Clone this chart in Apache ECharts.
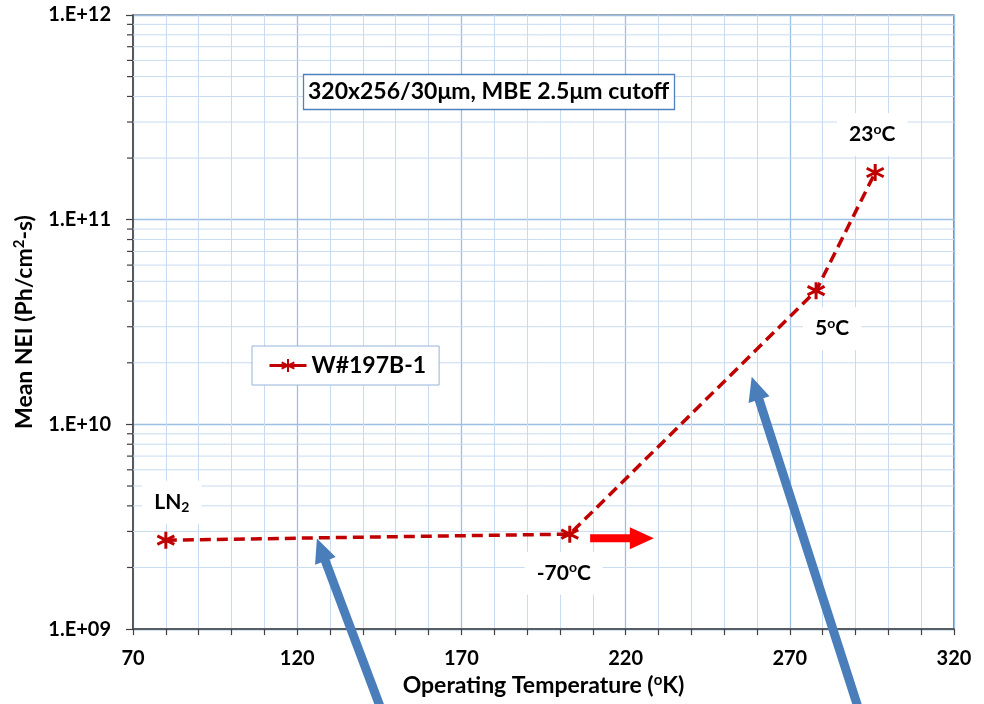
<!DOCTYPE html>
<html><head><meta charset="utf-8">
<script src="https://cdn.jsdelivr.net/npm/echarts@6/dist/echarts.min.js"></script>
<style>html,body{margin:0;padding:0;background:#fff}#c{width:984px;height:704px}</style>
</head><body><div id="c"></div>
<script>
// ---- data ----
const seriesName = 'W#197B-1';
const temperatures = [80, 203, 278, 296];
const neiValues = [2.72e9, 2.91e9, 4.5e10, 1.7e11];
const pointLabels = ['LN{sub|2}', '-70{sup|o}C', '5{sup|o}C', '23{sup|o}C'];
const xTickValues = [70, 120, 170, 220, 270, 320];
const yTickLabels = ['1.E+09', '1.E+10', '1.E+11', '1.E+12'];
const noteText = '320x256/30μm, MBE 2.5μm cutoff';
const xTitle = 'Operating Temperature ({sup|o}K)';
const yTitle = 'Mean NEI (Ph/cm{sup|2}-s)';

// ---- styling / annotation placement ----
const labelOffsets = [[6, -38], [-6, 39], [16, 38], [-3, -38]];
const arrows = [
  {from: [146.4, 3.73e8], to: [126.0, 2.77e9], color: '#4a7ebb', shaft: 9, headW: 22, headL: 24},
  {from: [291.7, 3.73e8], to: [258.4, 1.71e10], color: '#4a7ebb', shaft: 9, headW: 22, headL: 24},
  {from: [209.2, 2.78e9], to: [228.6, 2.78e9], color: '#ff0000', shaft: 8, headW: 22, headL: 24}
];
const FONT = 'Lato, "Open Sans", sans-serif';
const minorY = [];
for (let d = 9; d < 12; d++) for (let m = 2; m <= 9; m++) minorY.push(m * Math.pow(10, d));

const asterisk = 'path://M5,0L5,10M0.67,2.5L9.33,7.5M0.67,7.5L9.33,2.5';
function richFor(size) {
  return {
    sup: {fontSize: size, lineHeight: size, fontWeight: 'bold', fontFamily: FONT, padding: [0, 0, Math.round(size * 0.75), 0], color: '#000'},
    sub: {fontSize: size, lineHeight: size, fontWeight: 'bold', fontFamily: FONT, padding: [Math.round(size * 0.75), 0, 0, 0], color: '#000'}
  };
}

const chart = echarts.init(document.getElementById('c'));
chart.setOption({
  animation: false,
  backgroundColor: '#fff',
  title: {
    text: noteText, left: 303, top: 74, padding: [5, 5],
    borderColor: '#4f81bd', borderWidth: 1.3, backgroundColor: '#fff',
    textStyle: {fontSize: 23, fontWeight: 'bold', fontFamily: FONT, color: '#000', lineHeight: 26}
  },
  legend: {
    data: [seriesName], left: 252, top: 346, padding: [8, 13, 8, 16],
    itemWidth: 37, itemHeight: 16, borderColor: '#95b3d7', borderWidth: 1, backgroundColor: '#fff',
    lineStyle: {type: 'solid', width: 3},
    textStyle: {fontSize: 23, fontWeight: 'bold', fontFamily: FONT, color: '#000'}
  },
  grid: {left: 133, right: 30, top: 15, bottom: 72, show: true, borderColor: '#404040', borderWidth: 1.2, backgroundColor: 'transparent'},
  xAxis: {
    type: 'value', min: 70, max: 320, interval: 50,
    axisLine: {show: true, onZero: false, lineStyle: {color: '#404040', width: 1.5}},
    axisTick: {show: true, length: 6, lineStyle: {color: '#404040', width: 1.2}},
    minorTick: {show: true, splitNumber: 5, length: 6, lineStyle: {color: '#404040', width: 1.2}},
    splitLine: {show: true, lineStyle: {color: '#9dbfe4', width: 1.3}},
    minorSplitLine: {show: true, lineStyle: {color: '#c9dbf0', width: 1}},
    axisLabel: {
      margin: 19, fontSize: 20, fontWeight: 'bold', fontFamily: FONT, color: '#000',
      formatter: v => xTickValues.includes(v) ? String(v) : ''
    },
    name: xTitle, nameLocation: 'middle', nameGap: 44,
    nameTextStyle: {fontSize: 23, fontWeight: 'bold', fontFamily: FONT, color: '#000', rich: richFor(15)}
  },
  yAxis: {
    type: 'log', logBase: 10, min: 1e9, max: 1e12,
    axisLine: {show: true, lineStyle: {color: '#404040', width: 1.5}},
    axisTick: {show: true, length: 7, lineStyle: {color: '#404040', width: 1.2}},
    splitLine: {show: true, lineStyle: {color: '#9dbfe4', width: 1.3}},
    axisLabel: {
      margin: 22, fontSize: 20, fontWeight: 'bold', fontFamily: FONT, color: '#000',
      formatter: v => yTickLabels[Math.round(Math.log10(v)) - 9]
    },
    name: yTitle, nameLocation: 'middle', nameGap: 90, nameRotate: 90,
    nameTextStyle: {fontSize: 23, fontWeight: 'bold', fontFamily: FONT, color: '#000', rich: richFor(15)}
  },
  series: [
    {
      type: 'custom', silent: true, clip: false, z: 1,
      data: minorY.map(v => [70, v]),
      encode: {x: 0, y: 1},
      renderItem: (params, api) => {
        const cs = params.coordSys;
        const p = api.coord([api.value(0), api.value(1)]);
        return {type: 'group', children: [
          {type: 'line', shape: {x1: cs.x, y1: p[1], x2: cs.x + cs.width, y2: p[1]}, style: {stroke: '#c9dbf0', lineWidth: 1}},
          {type: 'line', shape: {x1: cs.x - 6, y1: p[1], x2: cs.x, y2: p[1]}, style: {stroke: '#404040', lineWidth: 1.2}}
        ]};
      }
    },
    {
      name: seriesName, type: 'line', z: 3,
      data: temperatures.map((t, i) => ({
        value: [t, neiValues[i]],
        label: {formatter: pointLabels[i], offset: labelOffsets[i]}
      })),
      symbol: asterisk, symbolSize: 17,
      itemStyle: {color: '#c00000', borderColor: '#c00000', borderWidth: 3},
      lineStyle: {color: '#c00000', width: 3.5, type: [11, 6]},
      label: {
        show: true, position: 'inside', backgroundColor: '#fff', padding: [11, 12],
        fontSize: 21, fontWeight: 'bold', fontFamily: FONT, color: '#000', rich: richFor(14)
      }
    }
  ]
});

function arrowPoints(a, b, sw, hw, hl) {
  const dx = b[0] - a[0], dy = b[1] - a[1], L = Math.hypot(dx, dy);
  const ux = dx / L, uy = dy / L, nx = -uy, ny = ux;
  const bx = b[0] - ux * hl, by = b[1] - uy * hl;
  return [
    [a[0] + nx * sw / 2, a[1] + ny * sw / 2], [bx + nx * sw / 2, by + ny * sw / 2],
    [bx + nx * hw / 2, by + ny * hw / 2], [b[0], b[1]],
    [bx - nx * hw / 2, by - ny * hw / 2], [bx - nx * sw / 2, by - ny * sw / 2],
    [a[0] - nx * sw / 2, a[1] - ny * sw / 2]
  ];
}
chart.setOption({
  graphic: arrows.map(ar => {
    const a = chart.convertToPixel({gridIndex: 0}, ar.from);
    const b = chart.convertToPixel({gridIndex: 0}, ar.to);
    return {type: 'polygon', z: 100, shape: {points: arrowPoints(a, b, ar.shaft, ar.headW, ar.headL)}, style: {fill: ar.color}};
  })
});
</script></body></html>
